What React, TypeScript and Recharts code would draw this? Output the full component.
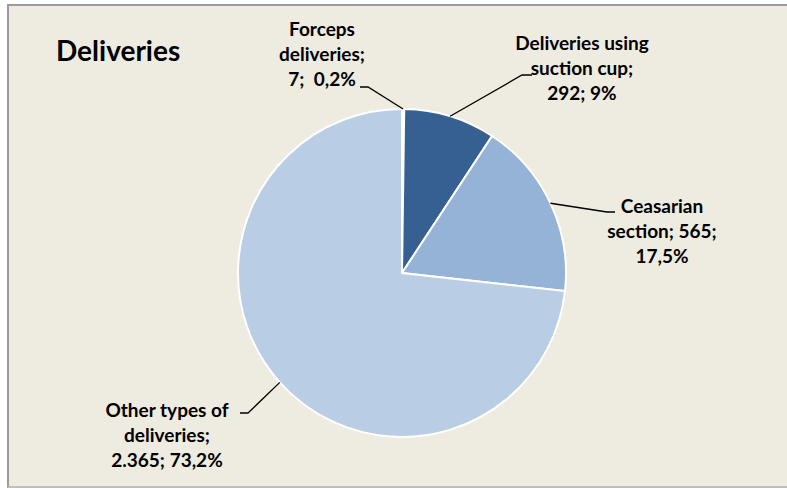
import React from 'react';
import { PieChart, Pie, Cell } from 'recharts';

const CATEGORIES = [
  'Forceps deliveries',
  'Deliveries using suction cup',
  'Ceasarian section',
  'Other types of deliveries',
];
const VALUES = [7, 292, 565, 2365];
const PERCENT_LABELS = ['0,2%', '9%', '17,5%', '73,2%'];
const VALUE_LABELS = ['7', '292', '565', '2.365'];
const LABEL_LINES = [
  ['Forceps', 'deliveries;', `${VALUE_LABELS[0]};  ${PERCENT_LABELS[0]}`],
  ['Deliveries using', 'suction cup;', `${VALUE_LABELS[1]}; ${PERCENT_LABELS[1]}`],
  ['Ceasarian', `section; ${VALUE_LABELS[2]};`, PERCENT_LABELS[2]],
  ['Other types of', 'deliveries;', `${VALUE_LABELS[3]}; ${PERCENT_LABELS[3]}`],
];
const COLORS = ['#DCE6F2', '#376092', '#95B3D7', '#B9CDE5'];

const data = CATEGORIES.map((name, i) => ({ name, value: VALUES[i] }));

// label layout: elbow / end of leader line, text centre x and first baseline
const LAYOUT = [
  { elbow: [368, 87], end: [360, 87], tx: 322, ty: 36 },
  { elbow: [522, 75], end: [532, 75], tx: 582, ty: 50 },
  { elbow: [607, 212], end: [615, 212], tx: 662, ty: 213 },
  { elbow: [248, 413], end: [240, 413], tx: 167, ty: 417 },
];
const LINE_GAP = 25;
const FONT = 'Lato, "DejaVu Sans", sans-serif';
const RADIAN = Math.PI / 180;

const renderLabel = (props: any) => {
  const { cx, cy, midAngle, outerRadius, index } = props;
  const sx = cx + outerRadius * Math.cos(-midAngle * RADIAN);
  const sy = cy + outerRadius * Math.sin(-midAngle * RADIAN);
  const l = LAYOUT[index];
  return (
    <g key={`lbl-${index}`}>
      <polyline
        points={`${sx},${sy} ${l.elbow[0]},${l.elbow[1]} ${l.end[0]},${l.end[1]}`}
        fill="none"
        stroke="#000"
        strokeWidth={1.3}
      />
      <text
        textAnchor="middle"
        fontFamily={FONT}
        fontWeight={700}
        fontSize={19}
        fill="#000"
        style={{ whiteSpace: 'pre' }}
      >
        {LABEL_LINES[index].map((t, k) => (
          <tspan key={k} x={l.tx} y={l.ty + k * LINE_GAP}>
            {t}
          </tspan>
        ))}
      </text>
    </g>
  );
};

export default function App() {
  return (
    <div
      style={{
        position: 'absolute',
        left: 0,
        top: 0,
        width: 787,
        height: 488,
        overflow: 'hidden',
        background: '#ffffff',
      }}
    >
      <div
        style={{
          position: 'absolute',
          left: 7,
          top: 4,
          width: 800,
          height: 484,
          boxSizing: 'border-box',
          background: '#EEEBE0',
          borderTop: '2px solid #9A9A9A',
          borderLeft: '2px solid #9A9A9A',
          borderBottom: '2px solid #BEBEBE',
        }}
      />
      <svg
        width={787}
        height={488}
        style={{ position: 'absolute', left: 0, top: 0 }}
      >
        <text x={56} y={61} fontFamily={FONT} fontWeight={700} fontSize={28} fill="#000">
          Deliveries
        </text>
      </svg>
      <div style={{ position: 'absolute', left: 0, top: 0 }}>
        <PieChart width={787} height={488} margin={{ top: 0, right: 0, bottom: 0, left: 0 }}>
          <Pie
            data={data}
            dataKey="value"
            nameKey="name"
            cx={402}
            cy={273}
            outerRadius={164}
            startAngle={90}
            endAngle={-270}
            stroke="#ffffff"
            strokeWidth={2}
            labelLine={false}
            label={renderLabel}
            isAnimationActive={false}
          >
            {data.map((d, i) => (
              <Cell key={d.name} fill={COLORS[i]} />
            ))}
          </Pie>
        </PieChart>
      </div>
    </div>
  );
}
